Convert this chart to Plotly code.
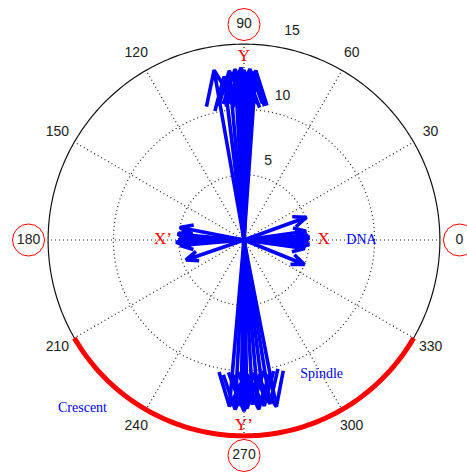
import numpy as np
import plotly.graph_objects as go

# Vector directions (degrees) and magnitudes for each group of arrows
y_angles = [100, 97, 95, 93, 92, 91, 90, 89, 88, 87, 86]
y_lengths = [13.2, 12.6, 13.0, 13.1, 12.8, 13.2, 13.0, 12.7, 13.1, 12.9, 13.0]

yp_angles = [265, 267, 269, 270, 271, 273, 275, 277, 279, 281]
yp_lengths = [12.8, 13.0, 12.7, 13.1, 12.9, 12.6, 13.0, 12.8, 12.7, 13.0]

x_angles = [20, 8, 4, 2, 0, 358, 356, 352, 338]
x_lengths = [5.1, 4.8, 4.9, 5.0, 4.9, 4.8, 5.0, 4.7, 5.0]

xp_angles = [169, 175, 178, 180, 182, 185, 199]
xp_lengths = [5.0, 5.1, 4.9, 5.0, 5.2, 4.9, 4.7]

angle_ticks = [0, 30, 60, 90, 120, 150, 180, 210, 240, 270, 300, 330]
circled_ticks = [0, 90, 180, 270]
r_ticks = [5, 10, 15]
r_max = 15

BLUE = "rgb(0,0,255)"
RED = "rgb(255,0,0)"
SERIF = "Liberation Serif, Times New Roman, serif"
SANS = "Liberation Sans, Arial, sans-serif"
DOTS = "1px,3px"

fig = go.Figure()

# dotted grid: inner circles and spokes
full = np.linspace(0, 360, 361)
for rt in r_ticks[:-1]:
    fig.add_trace(go.Scatterpolar(r=[rt] * len(full), theta=full, mode="lines",
                                  line=dict(color="#222", width=1.2, dash=DOTS),
                                  hoverinfo="skip", showlegend=False))
sr, st = [], []
for a in angle_ticks:
    sr += [0, r_max, None]
    st += [a, a, None]
fig.add_trace(go.Scatterpolar(r=sr, theta=st, mode="lines",
                              line=dict(color="#222", width=1.2, dash=DOTS),
                              hoverinfo="skip", showlegend=False))

# outer solid circle
fig.add_trace(go.Scatterpolar(r=[r_max] * len(full), theta=full, mode="lines",
                              line=dict(color="#111", width=1.2),
                              hoverinfo="skip", showlegend=False))

# crescent arc
arc = np.linspace(210, 330, 121)
fig.add_trace(go.Scatterpolar(r=[r_max] * len(arc), theta=arc, mode="lines",
                              line=dict(color=RED, width=5),
                              hoverinfo="skip", showlegend=False))

# compass arrows: shaft plus two barbs
head_r = np.hypot(0.8, 0.08)
head_a = np.degrees(np.arctan2(0.08, 0.8))
ar, at = [], []
for angs, lens in [(y_angles, y_lengths), (yp_angles, yp_lengths),
                   (x_angles, x_lengths), (xp_angles, xp_lengths)]:
    for a, L in zip(angs, lens):
        ar += [0, L, head_r * L, L, head_r * L, None]
        at += [a, a, a + head_a, a, a - head_a, None]
fig.add_trace(go.Scatterpolar(r=ar, theta=at, mode="lines",
                              line=dict(color=BLUE, width=3.6),
                              hoverinfo="skip", showlegend=False))

# angular tick labels
fig.add_trace(go.Scatterpolar(r=[16.5] * len(angle_ticks), theta=angle_ticks,
                              mode="text", text=[str(a) for a in angle_ticks],
                              textfont=dict(family=SANS, size=14, color="#222"),
                              cliponaxis=False, hoverinfo="skip", showlegend=False))
# red rings around the cardinal labels
fig.add_trace(go.Scatterpolar(r=[16.5] * len(circled_ticks), theta=circled_ticks,
                              mode="markers",
                              marker=dict(symbol="circle-open", size=32,
                                          line=dict(color=RED, width=1), color=RED),
                              cliponaxis=False, hoverinfo="skip", showlegend=False))

# radial tick labels
fig.add_trace(go.Scatterpolar(r=[6.3, 11.4, 16.35], theta=[73, 75, 77],
                              mode="text", text=[str(v) for v in r_ticks],
                              textfont=dict(family=SANS, size=14, color="#222"),
                              cliponaxis=False, hoverinfo="skip", showlegend=False))

# axis markers
fig.add_trace(go.Scatterpolar(r=[14.0, 14.2, 6.1, 6.2], theta=[90, 270, 0, 180],
                              mode="text", text=["Y", "Y’", "X", "X’"],
                              textfont=dict(family=SERIF, size=17, color=RED),
                              cliponaxis=False, hoverinfo="skip", showlegend=False))

# annotations in blue
fig.add_trace(go.Scatterpolar(r=[9.0, 11.9], theta=[0, 300],
                              mode="text", text=["DNA", "Spindle"],
                              textfont=dict(family=SERIF, size=14, color=BLUE),
                              cliponaxis=False, hoverinfo="skip", showlegend=False))

W, H = 467, 474
cx, cy, rad = 244, 240, 222
r_range = 17

# label outside the plotted radius, placed in paper coordinates from its polar position
cres_r, cres_t = 17.8, 226
px = cx + cres_r / r_range * rad * np.cos(np.radians(cres_t))
py = cy - cres_r / r_range * rad * np.sin(np.radians(cres_t))

fig.update_layout(
    width=W, height=H,
    margin=dict(l=0, r=0, t=0, b=0),
    paper_bgcolor="white",
    showlegend=False,
    annotations=[dict(x=px / W, y=1 - py / H, xref="paper", yref="paper",
                      xanchor="center", yanchor="middle",
                      text="Crescent", showarrow=False,
                      font=dict(family=SERIF, size=14, color=BLUE))],
    polar=dict(
        domain=dict(x=[(cx - rad) / W, (cx + rad) / W],
                    y=[(H - cy - rad) / H, (H - cy + rad) / H]),
        bgcolor="white",
        radialaxis=dict(range=[0, r_range], visible=False, showgrid=False, showline=False,
                        showticklabels=False, ticks=""),
        angularaxis=dict(visible=False, showgrid=False, showline=False,
                         showticklabels=False, ticks="", rotation=0,
                         direction="counterclockwise"),
    ),
)

fig.write_html("out.html")
